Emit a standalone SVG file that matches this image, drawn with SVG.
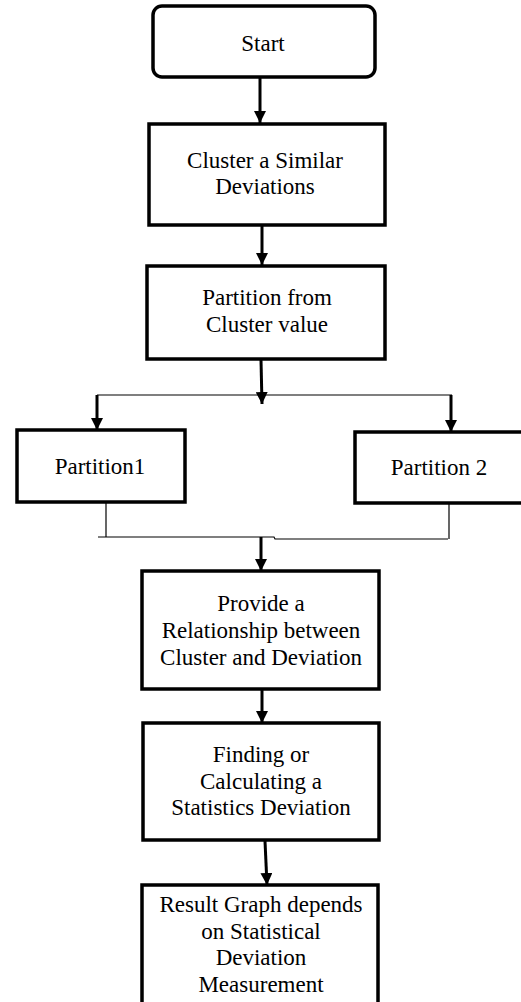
<svg xmlns="http://www.w3.org/2000/svg" width="521" height="1002" viewBox="0 0 521 1002">
<defs>
<marker id="ah" viewBox="0 0 10 10" refX="10" refY="5" markerWidth="4" markerHeight="4" orient="auto" markerUnits="strokeWidth">
<path d="M0,0 L10,5 L0,10 z" fill="#000"/>
</marker>
<style>
.box{fill:#fff;stroke:#000;stroke-width:3.5}
.t{font-family:"Liberation Serif","Times New Roman",serif;font-size:23px;fill:#000;text-anchor:middle}
.c{stroke:#000;stroke-width:3;fill:none}
.thin{stroke:#000;stroke-width:1.2;fill:none}
</style>
</defs>
<rect width="521" height="1002" fill="#fff"/>
<g id="connectors">
<line class="c" x1="260" y1="78" x2="260" y2="123" marker-end="url(#ah)"/>
<line class="c" x1="262" y1="226" x2="262" y2="265" marker-end="url(#ah)"/>
<line class="c" x1="261" y1="360" x2="262" y2="404" marker-end="url(#ah)"/>
<polyline class="thin" points="97,395 452,395"/>
<line class="c" x1="97" y1="395" x2="97" y2="430" marker-end="url(#ah)"/>
<line class="c" x1="451" y1="395" x2="451" y2="432" marker-end="url(#ah)"/>
<line class="thin" x1="106" y1="503" x2="106" y2="537"/>
<line class="thin" x1="449" y1="504" x2="449" y2="539"/>
<polyline class="thin" points="98,537 274,537 275,539 448,539"/>
<line class="c" x1="261" y1="537" x2="261" y2="571" marker-end="url(#ah)"/>
<line class="c" x1="262" y1="689" x2="262" y2="723" marker-end="url(#ah)"/>
<line class="c" x1="265" y1="841" x2="267" y2="885" marker-end="url(#ah)"/>
</g>
<g id="start">
<rect class="box" x="153" y="6" width="222" height="71" rx="9"/>
<text class="t" x="263" y="51">Start</text>
</g>
<g id="cluster">
<rect class="box" x="149" y="124" width="236" height="101"/>
<text class="t" x="265" y="168">Cluster a Similar</text>
<text class="t" x="265" y="194">Deviations</text>
</g>
<g id="partition">
<rect class="box" x="147" y="266" width="238" height="93"/>
<text class="t" x="267" y="305">Partition from</text>
<text class="t" x="267" y="332">Cluster value</text>
</g>
<g id="partition1">
<rect class="box" x="17" y="430" width="168" height="72"/>
<text class="t" x="100" y="474">Partition1</text>
</g>
<g id="partition2">
<rect class="box" x="355" y="432" width="170" height="71"/>
<text class="t" x="439" y="475">Partition 2</text>
</g>
<g id="relationship">
<rect class="box" x="142" y="571" width="237" height="118"/>
<text class="t" x="261" y="611">Provide a</text>
<text class="t" x="261" y="638">Relationship between</text>
<text class="t" x="261" y="665">Cluster and Deviation</text>
</g>
<g id="finding">
<rect class="box" x="143" y="723" width="236" height="117"/>
<text class="t" x="261" y="762">Finding or</text>
<text class="t" x="261" y="789">Calculating a</text>
<text class="t" x="261" y="815">Statistics Deviation</text>
</g>
<g id="result">
<rect class="box" x="142" y="885" width="236" height="130"/>
<text class="t" x="261" y="912">Result Graph depends</text>
<text class="t" x="261" y="939">on Statistical</text>
<text class="t" x="261" y="965">Deviation</text>
<text class="t" x="261" y="992">Measurement</text>
</g>
</svg>
